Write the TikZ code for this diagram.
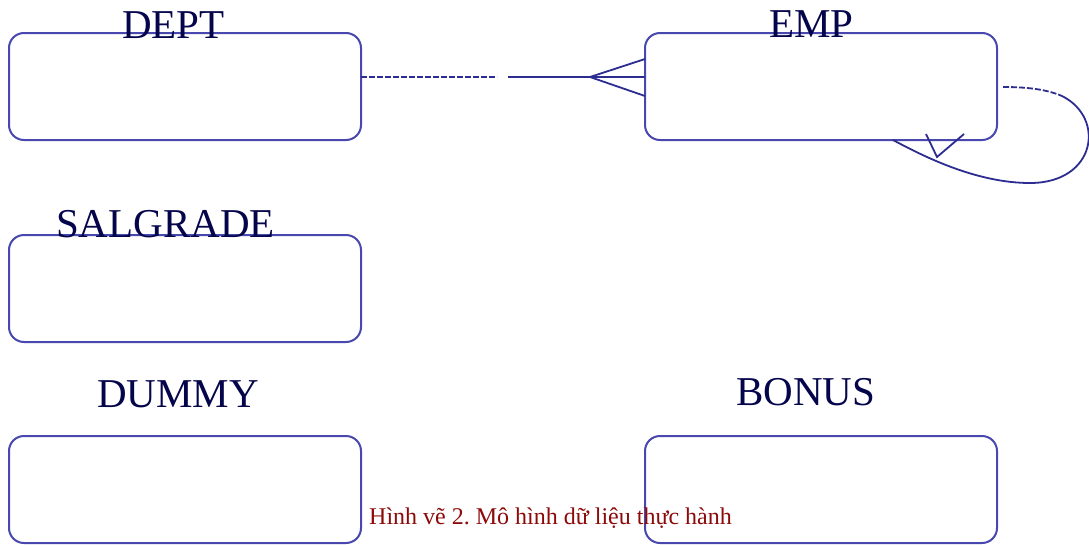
\documentclass[tikz,border=0pt]{standalone}
\usepackage{fontspec}
\setmainfont{Liberation Serif}
\frenchspacing
\begin{document}
\begin{tikzpicture}[x=1pt,y=-1pt]
\definecolor{boxcol}{RGB}{72,72,175}
\definecolor{linecol}{RGB}{45,45,145}
\definecolor{txtcol}{RGB}{5,5,75}
\definecolor{capcol}{RGB}{140,10,10}
\tikzset{
  entity/.style={draw=boxcol,line width=2pt,rounded corners=15pt,
    minimum width=352pt,minimum height=107pt,inner sep=0pt,outer sep=0pt},
  ename/.style={anchor=base west,inner sep=0pt,text=txtcol,font=\fontsize{41}{41}\selectfont},
  rel/.style={draw=linecol,line width=1.8pt},
  reldash/.style={rel,dash pattern=on 6pt off 2pt},
  caption/.style={anchor=base west,inner sep=0pt,text=capcol,font=\fontsize{24}{24}\selectfont}
}
\useasboundingbox (0,0) rectangle (1089,544);
\fill[white] (0,0) rectangle (1089,544);

% entities
\node[entity] (dept) at (185,86.5) {};
\node[entity] (emp) at (821,86.5) {};
\node[entity] (salgrade) at (185,288.5) {};
\node[entity] (dummy) at (185,489.5) {};
\node[entity] (bonus) at (821,489.5) {};

% names
\node[ename] (ldept) at (122,38) {DEPT};
\node[ename] (lemp) at (769,37) {EMP};
\node[ename] (lsal) at (56,237) {SALGRADE};
\node[ename] (ldummy) at (97,407) {DUMMY};
\node[ename] (lbonus) at (736,405) {BONUS};

% DEPT - EMP relationship
\coordinate (ga) at (497,77);
\coordinate (gb) at (508,77);
\coordinate (crow) at (590,77);
\coordinate (pa) at (645,59);
\coordinate (pb) at (645,96);
\draw[reldash] (dept.east |- ga) -- (ga);
\draw[rel] (gb) -- (emp.west |- gb);
\draw[rel] (emp.west |- pa) -- (crow) -- (emp.west |- pb);

% EMP self relationship
\coordinate (ls) at (1003,87);
\coordinate (lm) at (1062,96);
\coordinate (lb) at (1030,183);
\coordinate (le) at (893,140);
\coordinate (lc) at (937,157);
\coordinate (lp1) at (926,134);
\coordinate (lp2) at (964,134);
\draw[reldash] (ls) .. controls (1030,87) and (1048,90) .. (lm);
\draw[rel] (lm) .. controls (1106,118) and (1096,183) .. (lb)
  .. controls (980,183) and (930,160) .. (le);
\draw[rel] (lp1) -- (lc) -- (lp2);

% caption
\node[caption] (cap) at (369,524) {Hình vẽ 2. Mô hình dữ liệu thực hành};
\end{tikzpicture}
\end{document}
